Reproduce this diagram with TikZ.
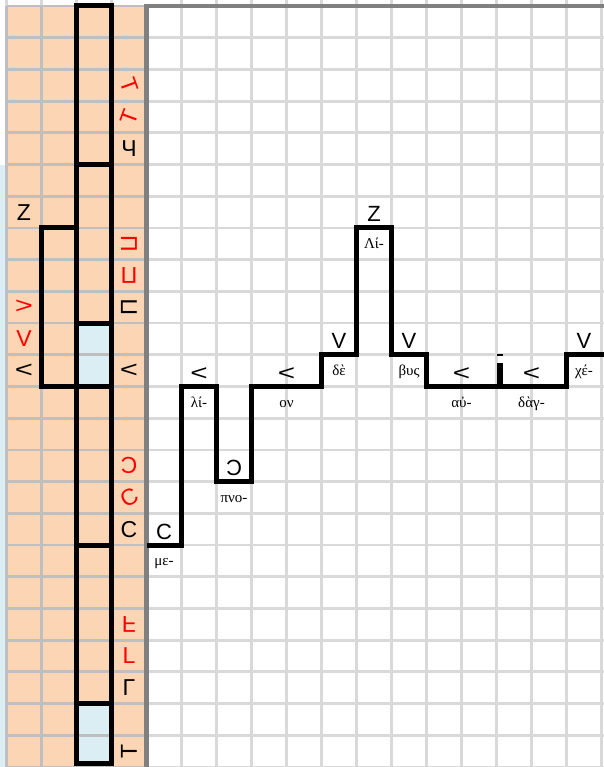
\documentclass[tikz,border=0pt]{standalone}
\usepackage{fontspec}
\setmainfont{Liberation Serif}
\newfontfamily\lsans{Liberation Sans}
\definecolor{peach}{HTML}{FCD5B4}
\definecolor{lblue}{HTML}{DAEEF3}
\definecolor{gridR}{HTML}{D9D9D9}
\definecolor{gridL}{HTML}{BFBFBF}
\definecolor{bordc}{HTML}{808080}
\tikzset{
  gR/.style={draw=gridR,line width=2.8pt},
  gL/.style={draw=gridL,line width=2.8pt},
  blk/.style={draw=black,line width=5pt},
  sym/.style={font=\lsans\fontsize{23}{23}\selectfont,inner sep=0pt},
  rsym/.style={sym,text=red},
  up/.style={font=\lsans\fontsize{22}{22}\selectfont,inner sep=0pt,anchor=base},
  lyr/.style={font=\fontsize{15}{15}\selectfont,inner sep=0pt,anchor=base},
}
\newcommand{\lt}{\scalebox{1.35}[1]{<}}
\newcommand{\gtw}{\scalebox{1.35}[1]{>}}
\begin{document}
\begin{tikzpicture}[x=35pt,y=-31.70833pt]
\useasboundingbox (-0.185714,-0.189216) rectangle (17.042857,24);
\fill[white] (-0.185714,-0.189216) rectangle (17.042857,24);
% fills
\fill[lblue] (-1,5) rectangle (0,25);
\fill[peach] (0,0) rectangle (4,25);
\fill[lblue] (2,10) rectangle (3,12);
\fill[lblue] (2,22) rectangle (3,24);
% grid right
\foreach \i in {5,...,17} \draw[gR] (\i,-1) -- (\i,25);
\foreach \j in {1,...,24} \draw[gR] (4,\j) -- (18,\j);
\foreach \i in {0,...,3} \draw[gR] (\i,-1) -- (\i,0);
% grid left
\foreach \i in {0,...,3} \draw[gL] (\i,0) -- (\i,25);
\foreach \j in {0,...,24} \draw[gL] (0,\j) -- (4,\j);
% border
\draw[draw=bordc,line width=4.5pt] (4,25) -- (4,0) -- (18,0);
% black boxes
\draw[blk] (2,0) rectangle (3,5);
\draw[blk] (2,5) rectangle (3,10);
\draw[blk] (2,10) rectangle (3,12);
\draw[blk] (2,12) rectangle (3,17);
\draw[blk] (2,17) rectangle (3,22);
\draw[blk] (2,22) rectangle (3,23.874);
\draw[blk] (1,7) rectangle (2,12);
% melody
\draw[blk] (4,17) -- (5,17) -- (5,12) -- (6,12) -- (6,15) -- (7,15) -- (7,12) -- (9,12) -- (9,11) -- (10,11) -- (10,7) -- (11,7) -- (11,11) -- (12,11) -- (12,12) -- (16,12) -- (16,11) -- (17.5,11);
\fill (14.02,10.98) rectangle (14.18,11.05);
\fill (14.02,11.26) rectangle (14.18,11.95);
% column A
\node[sym] (a6) at (0.5,6.5) {Z};
\node[rsym] (a9) at (0.5,9.5) {\gtw};
\node[rsym] (a10) at (0.5,10.5) {V};
\node[sym] (a11) at (0.5,11.5) {\lt};
% column D
\node[rsym,rotate=-70] (d2) at (3.5,2.5) {T};
\node[rsym,rotate=70] (d3) at (3.5,3.5) {T};
\node[sym] (d4) at (3.5,4.5) {Ч};
\node[rsym,rotate=-90] (d7) at (3.5,7.5) {Π};
\node[rsym,rotate=180] (d8) at (3.5,8.5) {Π};
\node[sym,rotate=90] (d9) at (3.5,9.5) {Π};
\node[sym] (d11) at (3.5,11.5) {\lt};
\node[rsym,rotate=180] (d14) at (3.5,14.5) {C};
\node[rsym,rotate=30] (d15) at (3.5,15.5) {C};
\node[sym] (d16) at (3.5,16.5) {C};
\node[rsym] (d19) at (3.5,19.5) {\scalebox{1}[-1]{F}};
\node[rsym] (d20) at (3.5,20.5) {L};
\node[sym] (d21) at (3.5,21.5) {Γ};
\node[sym,rotate=90] (d23) at (3.5,23.5) {T};
% upper labels
\node[up] (u1) at (4.5,16.81) {C};
\node[up] (u2) at (5.5,11.81) {\lt};
\node[up] (u3) at (6.5,14.81) {Ɔ};
\node[up] (u4) at (8,11.81) {\lt};
\node[up] (u5) at (9.5,10.81) {V};
\node[up] (u6) at (10.5,6.81) {Z};
\node[up] (u7) at (11.5,10.81) {V};
\node[up] (u8) at (13,11.81) {\lt};
\node[up] (u9) at (15,11.81) {\lt};
\node[up] (u10) at (16.5,10.81) {V};
% lyrics
\node[lyr] (l1) at (4.5,17.66) {με-};
\node[lyr] (l2) at (5.5,12.66) {λί-};
\node[lyr] (l3) at (6.5,15.66) {πνο-};
\node[lyr] (l4) at (8,12.66) {ον};
\node[lyr] (l5) at (9.5,11.66) {δὲ};
\node[lyr] (l6) at (10.5,7.66) {Λί-};
\node[lyr] (l7) at (11.5,11.66) {βυς};
\node[lyr] (l8) at (13,12.66) {αὐ-};
\node[lyr] (l9) at (15,12.66) {δὰγ-};
\node[lyr] (l10) at (16.5,11.66) {χέ-};
\end{tikzpicture}
\end{document}
